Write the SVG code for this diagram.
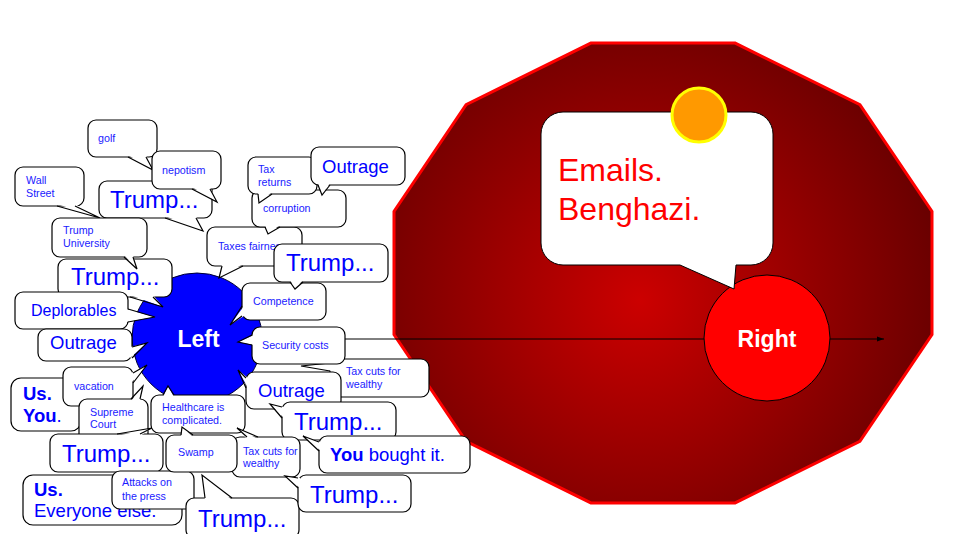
<svg xmlns="http://www.w3.org/2000/svg" width="960" height="534" viewBox="0 0 960 534">
<defs>
<radialGradient id="rg" gradientUnits="userSpaceOnUse" cx="640" cy="300" r="300">
<stop offset="0" stop-color="#cc0000"/>
<stop offset="1" stop-color="#6a0000"/>
</radialGradient>
<marker id="ah" markerWidth="8" markerHeight="6" refX="7" refY="3" orient="auto" markerUnits="userSpaceOnUse">
<path d="M0,0.5 L7,3 L0,5.5 Z" fill="#000"/>
</marker>
<style>
.bub rect{fill:#fff;stroke:#000;stroke-width:1.2}
.tf{fill:#fff;stroke:none}
.ts{fill:none;stroke:#000;stroke-width:1.2}
text{font-family:"Liberation Sans",Arial,sans-serif}
.s{font-size:10.7px;fill:#1a1aff}
.m{font-size:16px;fill:#0000ff}
.l{font-size:18.5px;fill:#0000ff}
.xl{font-size:24px;fill:#0000ff}
.b{font-weight:bold}
</style>
</defs>
<rect width="960" height="534" fill="#fff"/>

<g id="right-area">
<polygon points="932,211.4 932,334.6 859.9,441.3 735.1,502.9 590.9,502.9 466.1,441.3 394,334.6 394,211.4 466.1,104.7 590.9,43.1 735.1,43.1 859.9,104.7" fill="url(#rg)" stroke="#ff0000" stroke-width="3"/>
</g>

<g id="connectors">
<line x1="197" y1="339" x2="884" y2="339" stroke="#000" stroke-width="1" marker-end="url(#ah)"/>
</g>

<g id="node-right">
<circle cx="767" cy="338" r="63" fill="#ff0000" stroke="#000" stroke-width="1"/>
<text x="767" y="347" text-anchor="middle" font-size="23" font-weight="bold" fill="#fff">Right</text>
</g>

<g id="bubble-emails">
<path d="M563,112 H751 A22,22 0 0 1 773,134 V243 A22,22 0 0 1 751,265 H736 L734,289 L680,265 H563 A22,22 0 0 1 541,243 V134 A22,22 0 0 1 563,112 Z" fill="#fff" stroke="#000" stroke-width="1"/>
<text x="558" y="181" font-size="32" fill="#ff0000">Emails.</text>
<text x="558" y="220" font-size="32" fill="#ff0000">Benghazi.</text>
</g>
<g id="orange-dot">
<circle cx="699" cy="115" r="27" fill="#ff9900" stroke="#ffff00" stroke-width="3"/>
</g>

<g id="node-left">
<circle cx="197" cy="338" r="65" fill="#0000ff" stroke="#000033" stroke-width="1"/>
<text x="198.5" y="347" text-anchor="middle" font-size="23" font-weight="bold" fill="#fff">Left</text>
</g>

<g id="b-golf" class="bub">
<rect x="88" y="120" width="69" height="37" rx="8"/>
<path class="tf" d="M128,155 L153,170 L146,155 Z"/><path class="ts" d="M128,157 L153,170 L146,157"/>
<text class="s" x="98" y="142">golf</text>
</g>
<g id="b-wallstreet" class="bub">
<rect x="15" y="167" width="69" height="39" rx="8"/>
<path class="tf" d="M57,204 L100,218 L75,204 Z"/><path class="ts" d="M57,206 L100,218 L75,206"/>
<text class="s" x="26" y="184">Wall</text><text class="s" x="26" y="197">Street</text>
</g>
<g id="b-trump1" class="bub">
<rect x="99" y="181" width="113" height="37" rx="8"/>
<path class="tf" d="M165,216 L203,231 L196,216 Z"/><path class="ts" d="M165,218 L203,231 L196,218"/>
<text class="xl" x="110" y="208">Trump...</text>
</g>
<g id="b-nepotism" class="bub">
<rect x="152" y="151" width="69" height="38" rx="8"/>
<path class="tf" d="M192,187 L217,202 L210,187 Z"/><path class="ts" d="M192,189 L217,202 L210,189"/>
<text class="s" x="162" y="174">nepotism</text>
</g>
<g id="b-trump2" class="bub">
<rect x="58" y="259" width="114" height="38" rx="8"/>
<path class="tf" d="M130,295 L163,307 L153,295 Z"/><path class="ts" d="M130,297 L163,307 L153,297"/>
<text class="xl" x="71" y="285">Trump...</text>
</g>
<g id="b-trumpuniv" class="bub">
<rect x="52" y="218" width="95" height="39" rx="8"/>
<path class="tf" d="M124,255 L137,269 L133,255 Z"/><path class="ts" d="M124,257 L137,269 L133,257"/>
<text class="s" x="63" y="234">Trump</text><text class="s" x="63" y="247">University</text>
</g>
<g id="b-deplorables" class="bub">
<rect x="15" y="292" width="113" height="37" rx="8"/>
<path class="tf" d="M126,309 L155,317 L126,322 Z"/><path class="ts" d="M128,309 L155,317 L128,322"/>
<text class="m" x="31" y="316">Deplorables</text>
</g>
<g id="b-outrage1" class="bub">
<rect x="38" y="329" width="94" height="32" rx="8"/>
<path class="tf" d="M130,347 L147,343 L130,358 Z"/><path class="ts" d="M132,347 L147,343 L132,358"/>
<text class="l" x="50" y="349">Outrage</text>
</g>

<g id="b-taxesfairness" class="bub">
<rect x="207" y="227" width="95" height="39" rx="8"/>
<path class="tf" d="M222,264 L219,278 L243,264 Z"/><path class="ts" d="M222,266 L219,278 L243,266"/>
<text class="s" x="218" y="250">Taxes fairness</text>
</g>
<g id="b-competence" class="bub">
<rect x="242" y="283" width="84" height="37" rx="8"/>
<path class="tf" d="M244,306 L230,325 L244,316 Z"/><path class="ts" d="M242,306 L230,325 L242,316"/>
<text class="s" x="253" y="305">Competence</text>
</g>
<g id="b-trump3" class="bub">
<rect x="274" y="244" width="114" height="38" rx="8"/>
<path class="tf" d="M290,280 L295,289 L303,280 Z"/><path class="ts" d="M290,282 L295,289 L303,282"/>
<text class="xl" x="286" y="271">Trump...</text>
</g>
<g id="b-corruption" class="bub">
<rect x="252" y="190" width="94" height="37" rx="8"/>
<path class="tf" d="M265,225 L268,234 L280,225 Z"/><path class="ts" d="M265,227 L268,234 L280,227"/>
<text class="s" x="263" y="212">corruption</text>
</g>
<g id="b-taxreturns" class="bub">
<rect x="248" y="157" width="69" height="37" rx="8"/>
<path class="tf" d="M258,192 L259,203 L272,192 Z"/><path class="ts" d="M258,194 L259,203 L272,194"/>
<text class="s" x="258" y="173">Tax</text><text class="s" x="258" y="186">returns</text>
</g>
<g id="b-outrage2" class="bub">
<rect x="311" y="147" width="94" height="38" rx="8"/>
<path class="tf" d="M318,183 L322,195 L330,183 Z"/><path class="ts" d="M318,185 L322,195 L330,185"/>
<text class="l" x="322" y="173">Outrage</text>
</g>

<g id="b-taxcuts1" class="bub">
<rect x="330" y="359" width="99" height="38" rx="8"/>
<path class="tf" d="M332,363 L301,366 L332,371 Z"/><path class="ts" d="M330,363 L301,366 L330,371"/>
<text class="s" x="346" y="375">Tax cuts for</text><text class="s" x="346" y="388">wealthy</text>
</g>
<g id="b-security" class="bub">
<rect x="252" y="327" width="93" height="37" rx="8"/>
<path class="tf" d="M254,335 L238,342 L254,345 Z"/><path class="ts" d="M252,335 L238,342 L252,345"/>
<text class="s" x="262" y="349">Security costs</text>
</g>
<g id="b-outrage3" class="bub">
<rect x="246" y="372" width="95" height="37" rx="8"/>
<path class="tf" d="M248,378 L238,370 L248,388 Z"/><path class="ts" d="M246,378 L238,370 L246,388"/>
<text class="l" x="258" y="397">Outrage</text>
</g>
<g id="b-trump4" class="bub">
<rect x="282" y="402" width="114" height="38" rx="8"/>
<path class="tf" d="M284,407 L270,404 L284,418 Z"/><path class="ts" d="M282,407 L270,404 L282,418"/>
<text class="xl" x="294" y="430">Trump...</text>
</g>
<g id="b-youbought" class="bub">
<rect x="319" y="436" width="151" height="37" rx="8"/>
<path class="tf" d="M321,442 L303,436 L321,451 Z"/><path class="ts" d="M319,442 L303,436 L319,451"/>
<text class="l" x="330" y="461"><tspan class="b">You</tspan> bought it.</text>
</g>

<g id="b-usyou" class="bub">
<rect x="11" y="378" width="70" height="53" rx="10"/>
<text class="l" x="23" y="400"><tspan class="b">Us.</tspan></text>
<text class="l" x="23" y="422"><tspan class="b">You</tspan>.</text>
</g>
<g id="b-vacation" class="bub">
<rect x="63" y="367" width="70" height="39" rx="8"/>
<path class="tf" d="M131,373 L147,365 L131,383 Z"/><path class="ts" d="M133,373 L147,365 L133,383"/>
<text class="s" x="74" y="390">vacation</text>
</g>
<g id="b-supreme" class="bub">
<rect x="79" y="399" width="69" height="44" rx="8"/>
<path class="tf" d="M131,401 L143,386 L140,401 Z"/><path class="ts" d="M131,399 L143,386 L140,399"/>
<text class="s" x="90" y="416">Supreme</text><text class="s" x="90" y="428">Court</text>
</g>
<g id="b-healthcare" class="bub">
<rect x="151" y="395" width="94" height="38" rx="8"/>
<path class="tf" d="M163,397 L168,386 L174,397 Z"/><path class="ts" d="M163,395 L168,386 L174,395"/>
<text class="s" x="162" y="411">Healthcare is</text><text class="s" x="162" y="424">complicated.</text>
</g>
<g id="b-trump5" class="bub">
<rect x="50" y="434" width="113" height="38" rx="8"/>
<path class="tf" d="M117,436 L152,428 L140,436 Z"/><path class="ts" d="M117,434 L152,428 L140,434"/>
<text class="xl" x="62" y="462">Trump...</text>
</g>
<g id="b-useveryone" class="bub">
<rect x="23" y="475" width="159" height="50" rx="10"/>
<text class="l" x="34" y="496"><tspan class="b">Us.</tspan></text>
<text class="l" x="34" y="517">Everyone else.</text>
</g>
<g id="b-attacks" class="bub">
<rect x="112" y="471" width="82" height="38" rx="8"/>
<text class="s" x="122" y="486">Attacks on</text><text class="s" x="122" y="500">the press</text>
</g>
<g id="b-taxcuts2" class="bub">
<rect x="232" y="437" width="68" height="40" rx="8"/>
<path class="tf" d="M247,439 L237,428 L258,439 Z"/><path class="ts" d="M247,437 L237,428 L258,437"/>
<text class="s" x="243" y="455">Tax cuts for</text><text class="s" x="243" y="467">wealthy</text>
</g>
<g id="b-swamp" class="bub">
<rect x="166" y="435" width="71" height="37" rx="8"/>
<path class="tf" d="M181,437 L182,427 L193,437 Z"/><path class="ts" d="M181,435 L182,427 L193,435"/>
<text class="s" x="178" y="456">Swamp</text>
</g>
<g id="b-trump6" class="bub">
<rect x="186" y="498" width="113" height="40" rx="8"/>
<path class="tf" d="M205,500 L202,475 L232,500 Z"/><path class="ts" d="M205,498 L202,475 L232,498"/>
<text class="xl" x="198" y="527">Trump...</text>
</g>
<g id="b-trump7" class="bub">
<rect x="298" y="475" width="113" height="37" rx="8"/>
<path class="tf" d="M300,478 L285,476 L300,488 Z"/><path class="ts" d="M298,478 L285,476 L298,488"/>
<text class="xl" x="310" y="503">Trump...</text>
</g>
</svg>
